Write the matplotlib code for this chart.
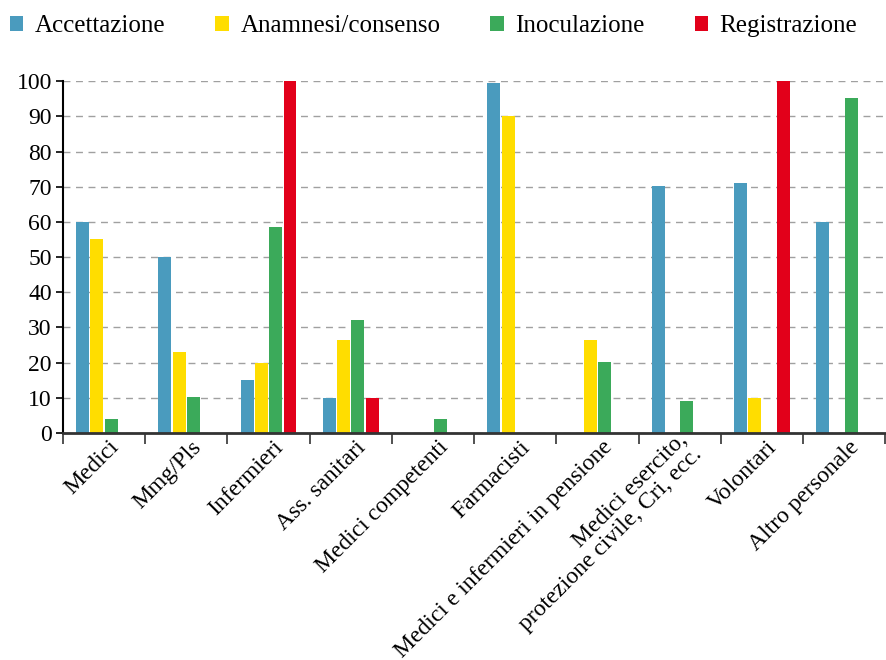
import numpy as np
import matplotlib
matplotlib.use("Agg")
import matplotlib.pyplot as plt
import matplotlib.transforms as mtransforms
from matplotlib.patches import Patch

plt.rcParams['font.family'] = ['Liberation Serif', 'DejaVu Serif']

categories = [
    "Medici", "Mmg/Pls", "Infermieri", "Ass. sanitari", "Medici competenti",
    "Farmacisti", "Medici e infermieri in pensione",
    "Medici esercito,\nprotezione civile, Cri, ecc.", "Volontari", "Altro personale",
]
series_names = ["Accettazione", "Anamnesi/consenso", "Inoculazione", "Registrazione"]
accettazione = [60, 50, 15, 10, 0, 99.5, 0, 70.3, 71, 60]
anamnesi = [55, 23, 20, 26.5, 0, 90, 26.5, 0, 10, 0]
inoculazione = [4, 10.3, 58.5, 32, 4, 0, 20.3, 9, 0, 95.2]
registrazione = [0, 0, 100, 10, 0, 0, 0, 0, 100, 0]
colors = ["#4A9BBE", "#FFDD00", "#3BAA5A", "#E2001A"]

fig = plt.figure(figsize=(8.87, 6.6), dpi=100)
ax = fig.add_axes([0.071, 0.344, 0.927, 0.533])

x = np.arange(len(categories))
slot = 0.174
width = 0.158
for k, vals in enumerate([accettazione, anamnesi, inoculazione, registrazione]):
    ax.bar(x + (k - 1.5) * slot, vals, width=width, color=colors[k], zorder=3)

ax.set_xlim(-0.5, len(categories) - 0.5)
ax.set_ylim(0, 100)
ax.set_yticks(np.arange(0, 101, 10))
ax.yaxis.grid(True, linestyle=(0, (5, 4)), color="#a0a0a0", linewidth=1, zorder=0)

# group boundaries as major ticks, names on minor ticks at the centres
ax.set_xticks(np.arange(-0.5, len(categories), 1.0))
ax.set_xticklabels([])
ax.set_xticks(x, minor=True)
ax.set_xticklabels(categories, minor=True, rotation=45, ha="right", va="center",
                   rotation_mode="anchor", fontsize=17, linespacing=1.0)
ax.tick_params(axis="x", which="major", length=8, width=1.2, color="#333333")
ax.tick_params(axis="x", which="minor", length=0, pad=8)
ax.tick_params(axis="y", length=5, width=1.2, labelsize=17, pad=3)

shift = mtransforms.ScaledTranslation(12 / 100, 0, fig.dpi_scale_trans)
for lbl in ax.get_xticklabels(minor=True):
    lbl.set_transform(lbl.get_transform() + shift)

for side in ["top", "right"]:
    ax.spines[side].set_visible(False)
ax.spines["left"].set_linewidth(1.5)
ax.spines["left"].set_color("black")
ax.spines["bottom"].set_linewidth(2)
ax.spines["bottom"].set_color("#333333")
ax.spines["bottom"].set_zorder(4)

handles = [Patch(facecolor=c, edgecolor="none") for c in colors]
fig.legend(handles, series_names, loc="upper left", bbox_to_anchor=(-0.006, 1.0),
           ncol=4, frameon=False, fontsize=18, handlelength=0.55, handleheight=0.55,
           handletextpad=0.45, columnspacing=2.0, borderaxespad=0.2)

fig.savefig("out.png", dpi=100)
